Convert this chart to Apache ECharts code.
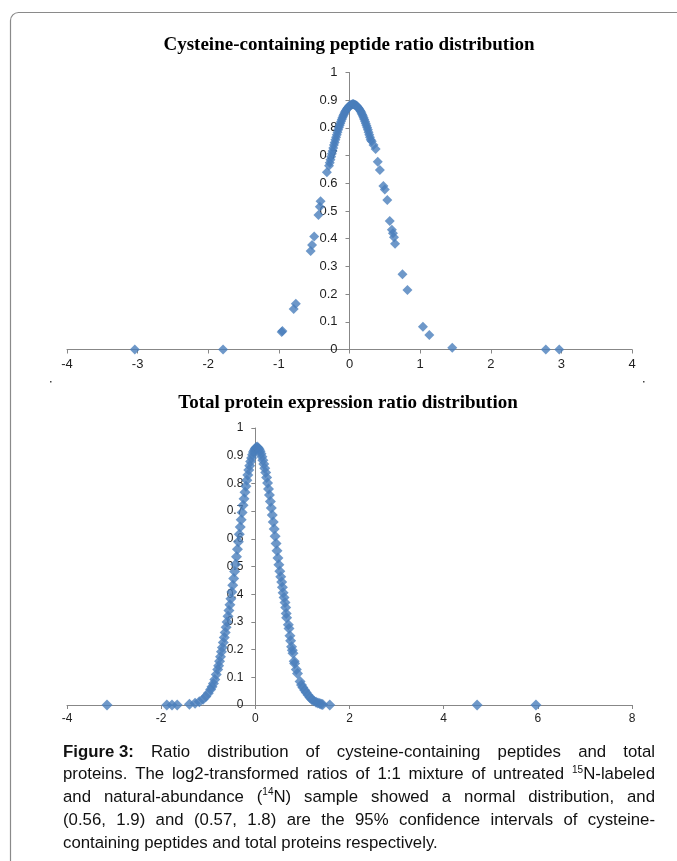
<!DOCTYPE html>
<html>
<head>
<meta charset="utf-8">
<script src="https://cdn.jsdelivr.net/npm/echarts@6/dist/echarts.min.js"></script>
<style>
html,body{margin:0;padding:0;background:#fff;}
#chart{width:677px;height:861px;}
</style>
</head>
<body>
<div id="chart"></div>
<script>
// ---- Data ----
const titleTop = 'Cysteine-containing peptide ratio distribution';
const titleBottom = 'Total protein expression ratio distribution';

// Cysteine-containing peptides: log2 ratio (x) vs density (y)
const cysX = [-3.04, -1.79, -0.96, -0.95, -0.79, -0.76, -0.55, -0.53, -0.50, -0.44, -0.42, -0.41,
  -0.32, -0.29, -0.28, -0.27, -0.26, -0.25, -0.24, -0.23, -0.22, -0.21, -0.20, -0.19, -0.18, -0.17,
  -0.16, -0.15, -0.14, -0.13, -0.12, -0.11, -0.10, -0.09, -0.08, -0.07, -0.06, -0.05, -0.04, -0.03,
  -0.02, -0.01, 0.00, 0.01, 0.02, 0.03, 0.04, 0.05, 0.06, 0.07, 0.08, 0.09, 0.10, 0.11, 0.12, 0.13,
  0.14, 0.15, 0.16, 0.17, 0.18, 0.19, 0.20, 0.21, 0.22, 0.23, 0.24, 0.25, 0.26, 0.27, 0.28, 0.29, 0.30,
  0.315, 0.34, 0.37, 0.40, 0.43, 0.48, 0.50, 0.535, 0.57, 0.60, 0.615, 0.63, 0.645, 0.75, 0.82,
  1.04, 1.13, 1.455, 2.78, 2.97];
const cysY = [0, 0.0003, 0.063, 0.067, 0.146, 0.165, 0.356, 0.377, 0.408, 0.486, 0.515, 0.535,
  0.640, 0.663, 0.674, 0.685, 0.696, 0.707, 0.717, 0.727, 0.738, 0.747, 0.757, 0.766, 0.775, 0.784,
  0.793, 0.801, 0.809, 0.816, 0.823, 0.830, 0.837, 0.843, 0.848, 0.854, 0.859, 0.863, 0.867, 0.871,
  0.874, 0.877, 0.880, 0.882, 0.883, 0.884, 0.885, 0.886, 0.885, 0.884, 0.883, 0.882, 0.880, 0.877, 0.874, 0.871,
  0.867, 0.863, 0.859, 0.854, 0.848, 0.843, 0.837, 0.830, 0.823, 0.816, 0.809, 0.801, 0.793, 0.784, 0.775, 0.766, 0.757,
  0.752, 0.738, 0.724, 0.678, 0.648, 0.590, 0.578, 0.540, 0.464, 0.432, 0.420, 0.405, 0.382, 0.272, 0.215,
  0.082, 0.052, 0.006, 0, 0];

// Total proteins: log2 ratio (x) vs density (y)
const totX = [-3.15, -1.88, -1.77, -1.66, -1.40, -1.28, -1.19, -1.11, -1.05, -1.00, -0.95, -0.92, -0.89,
  -0.86, -0.83, -0.80, -0.78, -0.76, -0.74, -0.72, -0.70, -0.68, -0.66, -0.64, -0.62, -0.60, -0.58,
  -0.56, -0.54, -0.52, -0.50, -0.48, -0.46, -0.44, -0.42, -0.40, -0.38, -0.36, -0.34, -0.32, -0.30,
  -0.28, -0.26, -0.24, -0.22, -0.20, -0.18, -0.16, -0.14, -0.12, -0.10, -0.08, -0.06, -0.04, -0.02,
  0.00, 0.02, 0.04, 0.06, 0.08, 0.10, 0.12, 0.14, 0.16, 0.18, 0.20, 0.22, 0.24, 0.26, 0.28, 0.30,
  0.32, 0.34, 0.36, 0.38, 0.40, 0.42, 0.44, 0.46, 0.48, 0.50, 0.52, 0.54, 0.56, 0.575, 0.59, 0.61,
  0.63, 0.645, 0.655, 0.665, 0.70, 0.715, 0.735, 0.75, 0.77, 0.785, 0.80, 0.825, 0.835, 0.87, 0.895,
  0.95, 0.98, 1.01, 1.05, 1.08, 1.12, 1.16, 1.20, 1.24, 1.29, 1.33, 1.37, 1.40, 1.43, 1.58, 4.71, 5.96];
const totY = [0, 0.0001, 0.0002, 0.0004, 0.003, 0.006, 0.012, 0.021, 0.031, 0.042, 0.056, 0.066, 0.078,
  0.092, 0.110, 0.128, 0.142, 0.158, 0.174, 0.192, 0.208, 0.226, 0.244, 0.262, 0.281, 0.300, 0.320,
  0.341, 0.362, 0.384, 0.408, 0.432, 0.457, 0.482, 0.508, 0.535, 0.562, 0.589, 0.616, 0.643, 0.669,
  0.695, 0.721, 0.745, 0.768, 0.790, 0.811, 0.830, 0.848, 0.864, 0.879, 0.892, 0.903, 0.913, 0.920,
  0.926, 0.930, 0.931, 0.928, 0.923, 0.916, 0.907, 0.896, 0.884, 0.870, 0.855, 0.839, 0.821, 0.801, 0.780, 0.758,
  0.735, 0.711, 0.686, 0.661, 0.635, 0.609, 0.583, 0.557, 0.531, 0.506, 0.483, 0.463, 0.444, 0.425, 0.405, 0.388,
  0.370, 0.352, 0.330, 0.315, 0.290, 0.276, 0.250, 0.232, 0.210, 0.198, 0.187, 0.158, 0.150, 0.128, 0.114,
  0.085, 0.072, 0.063, 0.053, 0.045, 0.036, 0.027, 0.020, 0.015, 0.010, 0.007, 0.005, 0.003, 0.002, 0.0003, 0, 0];

// Axis ranges [min, max, interval]
const topXRange = [-4, 4, 1];
const bottomXRange = [-4, 8, 2];
const yRange = [0, 1, 0.1];

// Caption (** = bold word, ^..| = superscript)
const captionLines = [
  ['**Figure 3:', 'Ratio', 'distribution', 'of', 'cysteine-containing', 'peptides', 'and', 'total'],
  ['proteins.', 'The', 'log2-transformed', 'ratios', 'of', '1:1', 'mixture', 'of', 'untreated', '^15|N-labeled'],
  ['and', 'natural-abundance', '(^14|N)', 'sample', 'showed', 'a', 'normal', 'distribution,', 'and'],
  ['(0.56,', '1.9)', 'and', '(0.57,', '1.8)', 'are', 'the', '95%', 'confidence', 'intervals', 'of', 'cysteine-'],
  ['containing', 'peptides', 'and', 'total', 'proteins', 'respectively.']
];

// ---- Rendering ----
const AX = '#878787';
const LBL = '#1e1e1e';
const SANS = '"Liberation Sans", Arial, sans-serif';
const chart = echarts.init(document.getElementById('chart'), null, {renderer: 'canvas'});

const GRID_LEFT = 67, GRID_W = 565;
// place y axis at x = 0 of the value axis (Excel style crossing)
function zeroOffset(r) { return -GRID_W * (0 - r[0]) / (r[1] - r[0]); }

function xAxisCfg(grid, r, fs) {
  return {
    gridIndex: grid, type: 'value', min: r[0], max: r[1], interval: r[2],
    axisLine: {show: true, onZero: true, lineStyle: {color: AX, width: 1}},
    axisTick: {show: true, length: 4, inside: false, lineStyle: {color: AX}},
    axisLabel: {margin: 8, fontSize: fs, color: LBL, fontFamily: SANS},
    splitLine: {show: false}
  };
}
function yAxisCfg(grid, r, xr, fs) {
  return {
    gridIndex: grid, type: 'value', min: r[0], max: r[1], interval: r[2],
    position: 'left', offset: zeroOffset(xr),
    axisLine: {show: true, onZero: false, lineStyle: {color: AX, width: 1}},
    axisTick: {show: true, length: 4, inside: false, lineStyle: {color: AX}},
    axisLabel: {margin: 12, fontSize: fs, color: LBL, fontFamily: SANS},
    splitLine: {show: false}
  };
}

// Caption layout (justified)
const mctx = document.createElement('canvas').getContext('2d');
const FONTS = {
  n: '16.8px "Liberation Sans"',
  b: 'bold 16.8px "Liberation Sans"',
  s: '10px "Liberation Sans"'
};
function measure(t, f) { mctx.font = FONTS[f]; return mctx.measureText(t).width; }
function parseWord(wd) {
  if (wd.startsWith('**')) return [{t: wd.slice(2), s: 'b'}];
  const segs = [];
  let rest = wd;
  while (rest.length) {
    const i = rest.indexOf('^');
    if (i < 0) { segs.push({t: rest, s: 'n'}); break; }
    if (i > 0) segs.push({t: rest.slice(0, i), s: 'n'});
    const j = rest.indexOf('|', i);
    segs.push({t: rest.slice(i + 1, j), s: 's'});
    rest = rest.slice(j + 1);
  }
  return segs;
}
const capLeft = 63, capRight = 655, capTop = 752, capStep = 22.75;
const captionEls = [];
captionLines.forEach((line, li) => {
  const words = line.map(parseWord);
  const widths = words.map(ws => ws.reduce((a, sg) => a + measure(sg.t, sg.s), 0));
  const total = widths.reduce((a, b) => a + b, 0);
  const last = li === captionLines.length - 1;
  const gap = last ? measure(' ', 'n') : (capRight - capLeft - total) / (words.length - 1);
  let cx = capLeft;
  const y = capTop + li * capStep;
  words.forEach((ws) => {
    ws.forEach(sg => {
      captionEls.push({
        type: 'text', x: cx, y: sg.s === 's' ? y - 5 : y, silent: true,
        style: {text: sg.t, font: FONTS[sg.s], fill: '#111', textAlign: 'left', textVerticalAlign: 'middle'}
      });
      cx += measure(sg.t, sg.s);
    });
    cx += gap;
  });
});

const option = {
  animation: false,
  backgroundColor: '#fff',
  grid: [
    {left: GRID_LEFT, top: 72.5, width: GRID_W, height: 277},
    {left: GRID_LEFT, top: 428, width: GRID_W, height: 277}
  ],
  xAxis: [xAxisCfg(0, topXRange, 13), xAxisCfg(1, bottomXRange, 12)],
  yAxis: [yAxisCfg(0, yRange, topXRange, 13), yAxisCfg(1, yRange, bottomXRange, 12)],
  series: [
    {
      type: 'scatter', xAxisIndex: 0, yAxisIndex: 0,
      data: cysX.map((x, i) => [x, cysY[i]]),
      symbol: 'diamond', symbolSize: 10,
      itemStyle: {color: '#4a7ebb'}, z: 3
    },
    {
      type: 'scatter', xAxisIndex: 1, yAxisIndex: 1,
      data: totX.map((x, i) => [x, totY[i]]),
      symbol: 'diamond', symbolSize: 11,
      itemStyle: {color: '#4a7ebb'}, z: 3
    }
  ],
  graphic: [
    {type: 'rect', silent: true, shape: {x: 10.5, y: 12.5, width: 720, height: 900, r: 8},
     style: {fill: 'none', stroke: '#8a8a8a', lineWidth: 1.2}},
    {type: 'text', x: 349, y: 45, silent: true,
     style: {text: titleTop, font: 'bold 19px "Liberation Serif"', fill: '#000', textAlign: 'center', textVerticalAlign: 'middle'}},
    {type: 'text', x: 348, y: 403, silent: true,
     style: {text: titleBottom, font: 'bold 19px "Liberation Serif"', fill: '#000', textAlign: 'center', textVerticalAlign: 'middle'}},
    {type: 'rect', silent: true, shape: {x: 50, y: 381, width: 1.5, height: 1.5}, style: {fill: '#444'}},
    {type: 'rect', silent: true, shape: {x: 643, y: 381, width: 1.5, height: 1.5}, style: {fill: '#444'}}
  ].concat(captionEls)
};
chart.setOption(option);
</script>
</body>
</html>
